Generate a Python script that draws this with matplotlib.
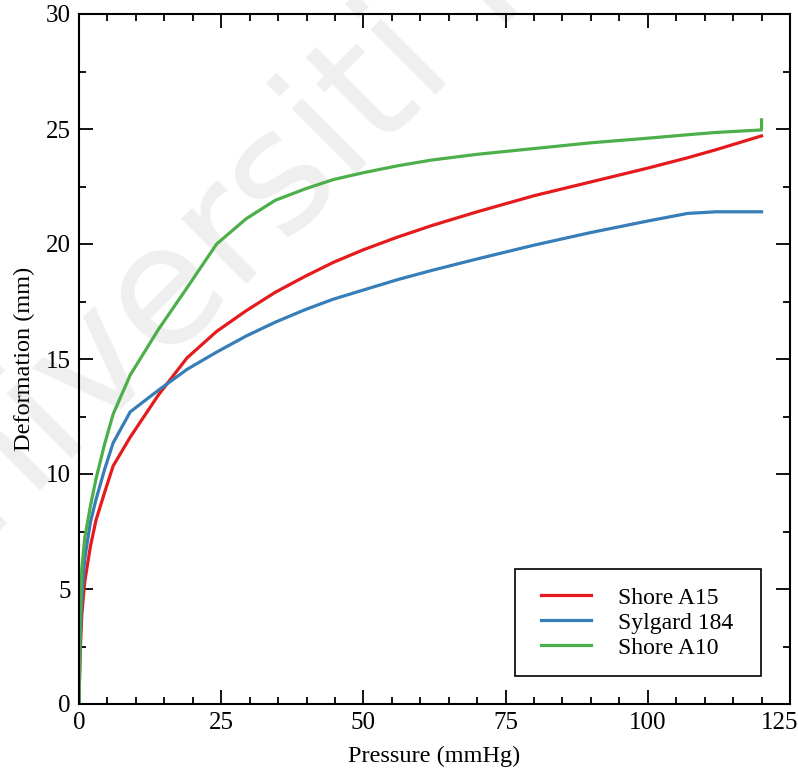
import matplotlib
matplotlib.use("Agg")
import matplotlib.pyplot as plt
from matplotlib.ticker import MultipleLocator
from matplotlib.patches import Rectangle
from matplotlib.transforms import ScaledTranslation

plt.rcParams['font.family'] = ['Liberation Serif', 'DejaVu Serif']

pressure = [0, 0.2, 0.5, 1, 2, 3, 4.5, 6, 9, 14, 19, 24.2, 29.4, 34.5, 39.8,
            44.7, 50, 56, 62, 70, 80, 90, 100, 107, 112, 120]
shore_a15 = [0, 2.2, 3.9, 5.3, 6.85, 8.0, 9.2, 10.35, 11.6, 13.45, 15.05, 16.2, 17.1, 17.9, 18.6,
             19.2, 19.75, 20.3, 20.8, 21.4, 22.1, 22.7, 23.3, 23.75, 24.1, 24.7]
sylgard_184 = [0, 2.8, 4.6, 6.3, 7.9, 8.9, 10.2, 11.35, 12.7, 13.65, 14.55, 15.3, 16.0, 16.6, 17.15,
               17.6, 18.0, 18.45, 18.85, 19.35, 19.95, 20.5, 21.0, 21.33, 21.4, 21.4]
pressure_a10 = pressure + [120]
shore_a10 = [0, 3.8, 5.9, 7.2, 8.6, 9.8, 11.3, 12.6, 14.3, 16.3, 18.1, 20.0, 21.1, 21.9, 22.4,
             22.8, 23.1, 23.4, 23.65, 23.9, 24.15, 24.4, 24.6, 24.75, 24.85, 24.96, 25.4]

labels = ['Shore A15', 'Sylgard 184', 'Shore A10']
colors = ['#e41a1c', '#377eb8', '#4daf4a']

fig = plt.figure(figsize=(7.98, 7.69), dpi=100)
fig.text(-0.125, 0.18, 'Universiti Malaya', rotation=45, rotation_mode='anchor',
         fontsize=120, family='DejaVu Sans', color='#efefef', ha='left', va='baseline', zorder=-5)
ax = fig.add_axes([79/798, 1-704/769, (790-79)/798, (704-14)/769])
ax.set_zorder(2)
ax.patch.set_alpha(0)

ax.plot(pressure, shore_a15, color=colors[0], lw=2.3, label=labels[0])
ax.plot(pressure, sylgard_184, color=colors[1], lw=2.3, label=labels[1])
ax.plot(pressure_a10, shore_a10, color=colors[2], lw=2.3, label=labels[2])

ax.set_xlim(0, 125)
ax.set_ylim(0, 30)
ax.xaxis.set_major_locator(MultipleLocator(25))
ax.xaxis.set_minor_locator(MultipleLocator(5))
ax.yaxis.set_major_locator(MultipleLocator(5))
ax.yaxis.set_minor_locator(MultipleLocator(2.5))
ax.tick_params(which='both', direction='in', top=True, right=True, width=1.3, labelsize=18)
ax.tick_params(which='major', length=10, pad=6)
ax.tick_params(which='minor', length=5)
for s in ax.spines.values():
    s.set_linewidth(1.5)

ax.set_xlabel('Pressure (mmHg)', fontsize=17.5, labelpad=8.5)
ax.set_ylabel('Deformation (mm)', fontsize=17.5, labelpad=8)

leg = ax.legend(loc='lower right', bbox_to_anchor=(0.945, 0.04), fontsize=17, frameon=False,
                handlelength=2.1, handletextpad=1.15,
                borderpad=0.75, borderaxespad=0, labelspacing=0.15)
ax.add_patch(Rectangle((0.6132, 0.0406), 0.9592 - 0.6132, 0.1957 - 0.0406,
                       transform=ax.transAxes, fill=False, edgecolor='black', lw=1.2, zorder=5))

fig.canvas.draw()
for tick in ax.xaxis.get_major_ticks():
    if abs(tick.get_loc() - 125) < 1e-6:
        lbl = tick.label1
        lbl.set_transform(lbl.get_transform() + ScaledTranslation(-0.10, 0, fig.dpi_scale_trans))

fig.savefig('out.png', dpi=100)
